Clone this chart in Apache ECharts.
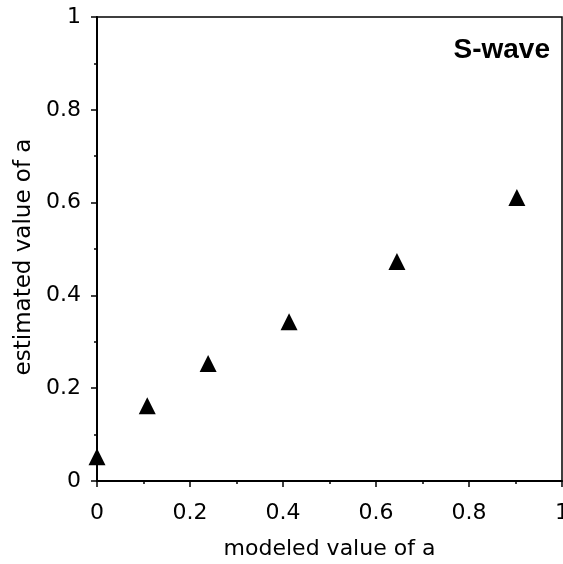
<!DOCTYPE html>
<html>
<head>
<meta charset="utf-8">
<script src="https://cdn.jsdelivr.net/npm/echarts@6/dist/echarts.min.js"></script>
<style>
  html, body { margin: 0; padding: 0; background: #fff; }
  #chart { width: 563px; height: 564px; }
</style>
</head>
<body>
<div id="chart"></div>
<script>
// modeled vs estimated value of a (S-wave)
var modeledA = [0, 0.108, 0.239, 0.413, 0.645, 0.903];
var estimatedA = [0.052, 0.162, 0.253, 0.343, 0.473, 0.611];
var tickValues = [0, 0.2, 0.4, 0.6, 0.8, 1];

var points = modeledA.map(function (x, i) { return [x, estimatedA[i]]; });

var myChart = echarts.init(document.getElementById('chart'));
var font = 'DejaVu Sans, sans-serif';
var option = {
    animation: false,
    title: {
        text: 'S-wave',
        right: 8,
        top: 31,
        textStyle: { fontFamily: 'Liberation Sans, Arial, sans-serif', fontSize: 28, fontWeight: 'bold', color: '#000' }
    },
    grid: {
        left: 97,
        right: 1,
        top: 17,
        bottom: 83,
        outerBoundsMode: 'none',
        containLabel: false,
        show: true,
        borderColor: '#000',
        borderWidth: 1.5
    },
    xAxis: {
        type: 'value',
        min: 0,
        max: 1,
        interval: 0.2,
        name: 'modeled value of a',
        nameLocation: 'middle',
        nameGap: 57,
        nameTextStyle: { fontFamily: font, fontSize: 22, color: '#000' },
        axisLine: { lineStyle: { color: '#000', width: 2 } },
        axisTick: { show: true, length: 6, lineStyle: { color: '#000', width: 1.5 } },
        minorTick: { show: true, splitNumber: 2, length: 3, lineStyle: { color: '#000', width: 1.5 } },
        splitLine: { show: false },
        axisLabel: {
            fontFamily: font, fontSize: 22, color: '#000', margin: 21,
            formatter: function (v) { return tickValues.indexOf(v) >= 0 ? String(v) : ''; }
        }
    },
    yAxis: {
        type: 'value',
        min: 0,
        max: 1,
        interval: 0.2,
        name: 'estimated value of a',
        nameLocation: 'middle',
        nameGap: 57,
        nameTextStyle: { fontFamily: font, fontSize: 23, color: '#000', padding: [0, 16, 0, 0] },
        axisLine: { lineStyle: { color: '#000', width: 2 } },
        axisTick: { show: true, length: 6, lineStyle: { color: '#000', width: 1.5 } },
        minorTick: { show: true, splitNumber: 2, length: 3, lineStyle: { color: '#000', width: 1.5 } },
        splitLine: { show: false },
        axisLabel: {
            fontFamily: font, fontSize: 22, color: '#000', margin: 16,
            formatter: function (v) { return String(v); }
        }
    },
    series: [{
        type: 'scatter',
        symbol: 'triangle',
        symbolSize: 17,
        itemStyle: { color: '#000', opacity: 1 },
        data: points
    }]
};
myChart.setOption(option);
</script>
</body>
</html>
